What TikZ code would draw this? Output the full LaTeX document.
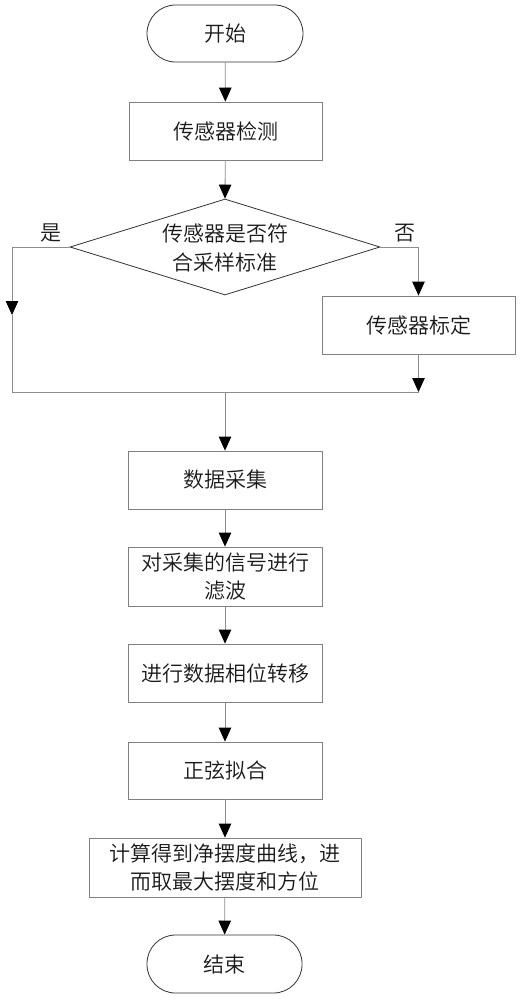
\documentclass[tikz,border=0pt]{standalone}
\usepackage{fontspec}
\setmainfont{Noto Sans CJK SC}[UprightFont=* DemiLight]
\usetikzlibrary{arrows.meta,shapes.geometric}
\begin{document}
\begin{tikzpicture}[x=1pt,y=-1pt,
  every node/.style={font=\fontsize{21}{28.5}\selectfont, text=black!90, inner sep=0pt},
  proc/.style={draw=black!50, line width=0.8pt, minimum width=193pt, minimum height=58pt, align=center},
  term/.style={draw=black!80, line width=0.8pt, rounded corners=28.5pt, minimum width=156pt, minimum height=57pt},
  conn/.style={draw=black!45, line width=0.8pt},
  arr/.style={conn, -{Triangle[length=14pt,width=12.5pt,color=black]}}]
\fill[white] (0,0) rectangle (521,1000);
\useasboundingbox (0,0) rectangle (521,1000);
\node[term] (start) at (225,33.5) {开始};
\node[proc] (detect) at (225.5,131) {传感器检测};
\node[diamond, draw=black!80, line width=0.8pt, minimum width=310pt, minimum height=96pt, aspect=3.23] (dec) at (225,247) {};
\node[align=center] (dectext) at (225,248) {传感器是否符\\合采样标准};
\node (yes) at (51,233) {是};
\node (no) at (405,233) {否};
\node[proc] (calib) at (418.5,325) {传感器标定};
\node[proc, minimum width=194pt] (data) at (225,480) {数据采集};
\node[proc, minimum width=194pt, minimum height=59pt] (filter) at (225,576.5) {对采集的信号进行\\滤波};
\node[proc, minimum width=194pt] (phase) at (225,673) {进行数据相位转移};
\node[proc, minimum width=194pt, minimum height=57pt] (sine) at (225,770.5) {正弦拟合};
\node[proc, minimum width=272pt, minimum height=59pt] (calc) at (225,867.5) {计算得到净摆度曲线，进\\而取最大摆度和方位};
\node[term, minimum width=155pt, minimum height=58pt] (end) at (224.5,964) {结束};
\coordinate (lt) at (12,247);
\coordinate (lmid) at (12,315);
\coordinate (lb) at (12,392);
\coordinate (rt) at (418.5,247);
\coordinate (rb) at (418.5,392);
\coordinate (mid) at (225,392);
\draw[arr] (start) -- (detect);
\draw[arr] (detect) -- (dec.north);
\draw[arr] (dec.west) -- (lt) -- (lmid);
\draw[conn] (lmid) -- (lb) -- (rb);
\draw[arr] (dec.east) -- (rt) -- (calib.north);
\draw[arr] (calib.south) -- (rb);
\draw[arr] (mid) -- (data.north);
\draw[arr] (data) -- (filter);
\draw[arr] (filter) -- (phase);
\draw[arr] (phase) -- (sine);
\draw[arr] (sine) -- (calc);
\draw[arr] (calc) -- (end);
\end{tikzpicture}
\end{document}
